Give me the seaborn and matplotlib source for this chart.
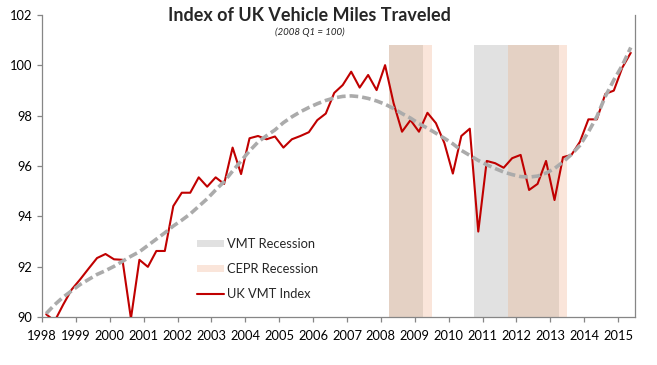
import numpy as np
import pandas as pd
import matplotlib
matplotlib.use("Agg")
import matplotlib.pyplot as plt
import seaborn as sns
from matplotlib.patches import Patch
from matplotlib.lines import Line2D

# Quarterly index, 1998 Q1 .. 2015 Q2 (2008 Q1 = 100)
quarters = pd.period_range("1998Q1", "2015Q2", freq="Q")
vmt_index = [90.12, 89.85, 90.50, 91.10, 91.50, 91.93, 92.35, 92.51,
             92.30, 92.28, 89.95, 92.28, 92.00, 92.63, 92.63, 94.41,
             94.94, 94.94, 95.55, 95.18, 95.55, 95.29, 96.73, 95.68,
             97.10, 97.19, 97.06, 97.17, 96.73, 97.06, 97.19, 97.34,
             97.82, 98.08, 98.90, 99.21, 99.74, 99.11, 99.61, 99.01,
             100.00, 98.50, 97.36, 97.82, 97.36, 98.11, 97.70, 96.91,
             95.70, 97.19, 97.48, 93.40, 96.20, 96.11, 95.93, 96.31,
             96.44, 95.05, 95.29, 96.20, 94.65, 96.35, 96.44, 96.96,
             97.85, 97.85, 98.86, 98.99, 99.90, 100.49]
trend = [90.15, 90.50, 90.80, 91.05, 91.30, 91.50, 91.70, 91.85,
         92.02, 92.22, 92.42, 92.60, 92.85, 93.10, 93.35, 93.62,
         93.85, 94.10, 94.40, 94.70, 95.05, 95.38, 95.80, 96.20,
         96.60, 96.95, 97.20, 97.43, 97.72, 97.95, 98.15, 98.32,
         98.47, 98.60, 98.70, 98.76, 98.78, 98.75, 98.68, 98.58,
         98.45, 98.28, 98.08, 97.90, 97.68, 97.50, 97.30, 97.10,
         96.88, 96.62, 96.42, 96.22, 96.05, 95.90, 95.76, 95.66,
         95.58, 95.56, 95.60, 95.72, 95.90, 96.16, 96.46, 96.82,
         97.35, 97.96, 98.76, 99.41, 99.99, 100.70]

# recession periods (decimal years)
vmt_recessions = [(2008.25, 2009.25), (2010.75, 2013.25)]
cepr_recessions = [(2008.25, 2009.50), (2011.75, 2013.50)]
band_top = 100.8

years = list(range(1998, 2016))
yticks = [90, 92, 94, 96, 98, 100, 102]

df = pd.DataFrame({
    "date": quarters.year + (quarters.quarter - 1) / 4 + 0.125,
    "index": vmt_index,
    "trend": trend,
})

sns.set_style("white")
plt.rcParams["font.family"] = ["Lato", "DejaVu Sans"]

fig = plt.figure(figsize=(6.57, 3.65), dpi=100)
ax = fig.add_axes([0.0639, 0.1307, 0.9026, 0.829])

gray_c = "#E1E1E1"
peach_c = "#FAE5DA"
tan_c = "#E4D1C4"
frac = (band_top - 90) / 12

for a, b in cepr_recessions:
    ax.axvspan(a, b, ymax=frac, color=peach_c, lw=0, zorder=0)
for a, b in vmt_recessions:
    ax.axvspan(a, b, ymax=frac, color=gray_c, lw=0, zorder=0)
# overlap of both recession types shows as tan
for a, b in vmt_recessions:
    for c, d in cepr_recessions:
        lo, hi = max(a, c), min(b, d)
        if hi > lo:
            ax.axvspan(lo, hi, ymax=frac, color=tan_c, lw=0, zorder=0)

sns.lineplot(data=df, x="date", y="index", ax=ax, color="#C00000", lw=1.5, zorder=3)
sns.lineplot(data=df, x="date", y="trend", ax=ax, color="#ABABAB", lw=2.6,
             linestyle=(0, (2.4, 1.1)), zorder=4)

ax.set_xlim(1998, 2015.5)
ax.set_ylim(90, 102)
ax.set_xticks(years)
ax.set_yticks(yticks)
ax.set_xlabel("")
ax.set_ylabel("")
ax.spines["top"].set_visible(False)
for s in ["left", "bottom", "right"]:
    ax.spines[s].set_color("#868686")
    ax.spines[s].set_linewidth(0.9)
ax.tick_params(axis="both", which="major", direction="out", length=3.6, width=0.9,
               color="#868686", labelsize=9.3, labelcolor="black")
ax.tick_params(axis="x", pad=5.5, bottom=True)
ax.tick_params(axis="y", pad=3.5, left=True)

handles = [Patch(facecolor=gray_c, edgecolor="none"),
           Patch(facecolor=peach_c, edgecolor="none"),
           Line2D([], [], color="#C00000", lw=1.5)]
fig.legend(handles, ["VMT Recession", "CEPR Recession", "UK VMT Index"],
           loc="upper left", bbox_to_anchor=(0.2998, 0.347), frameon=False,
           fontsize=9.3, handlelength=2.1, handleheight=0.4, handletextpad=0.25,
           labelspacing=0.98, borderpad=0, borderaxespad=0)

fig.text(0.471, 0.957, "Index of UK Vehicle Miles Traveled", ha="center", va="center",
         fontsize=13, fontweight="bold")
fig.text(0.471, 0.912, "(2008 Q1 = 100)", ha="center", va="center",
         fontsize=7, style="italic")

fig.savefig("out.png", dpi=100)
